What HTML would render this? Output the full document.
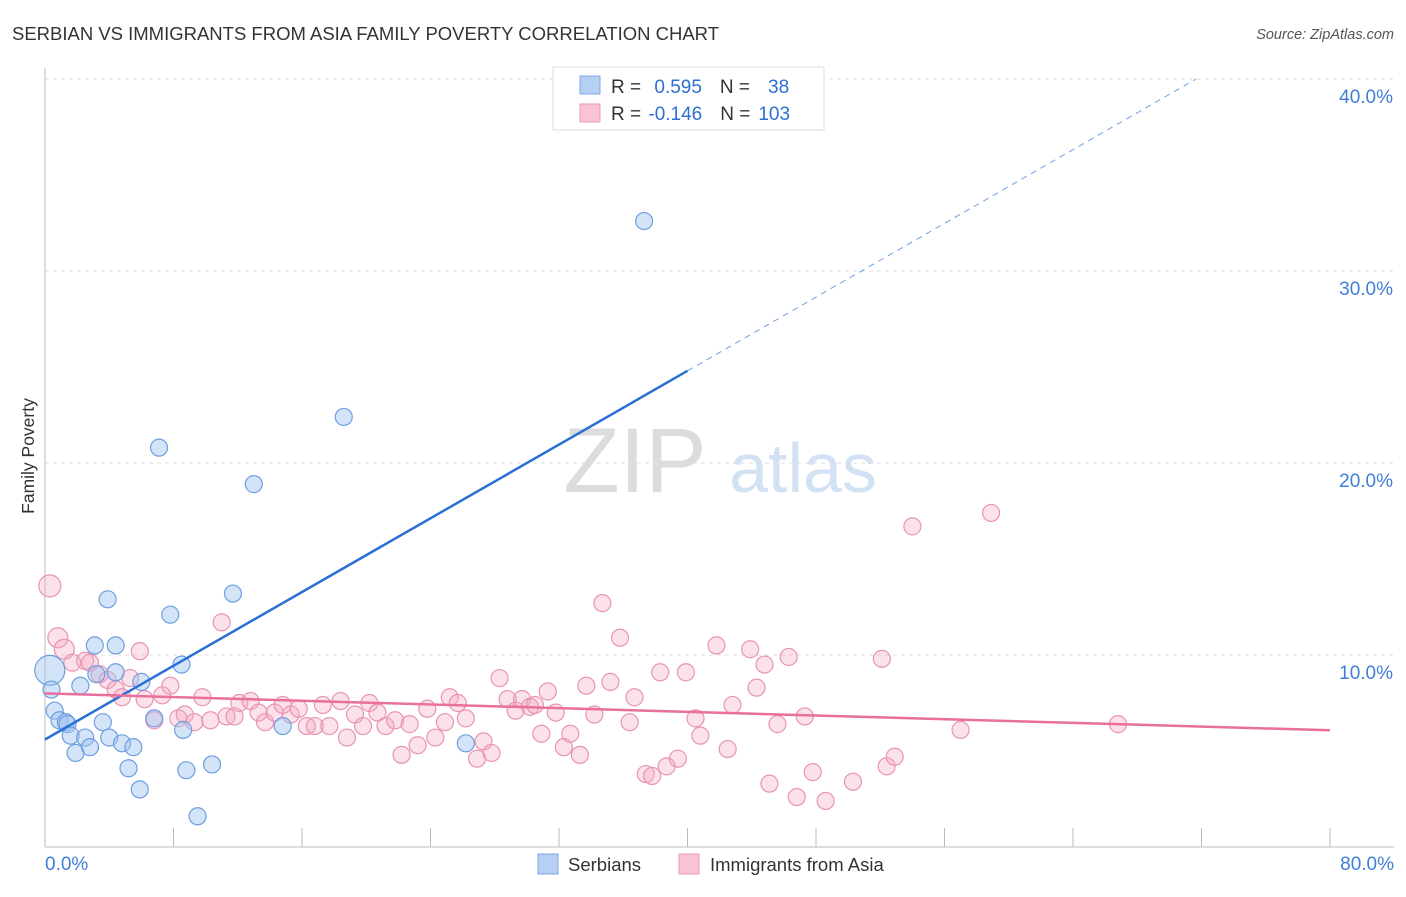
<!DOCTYPE html>
<html><head><meta charset="utf-8"><style>
body{margin:0;background:#fff;font-family:"Liberation Sans",sans-serif;}
svg text{font-family:"Liberation Sans",sans-serif;}
</style></head><body>
<svg id="c" width="1406" height="892" xmlns="http://www.w3.org/2000/svg">
<text x="12" y="40" font-size="18" fill="#333" textLength="707" lengthAdjust="spacingAndGlyphs">SERBIAN VS IMMIGRANTS FROM ASIA FAMILY POVERTY CORRELATION CHART</text>
<text x="1394" y="39" font-size="14.5" fill="#555" font-style="italic" text-anchor="end">Source: ZipAtlas.com</text>
<g opacity="0.5">
<text x="635" y="492" font-size="92" font-family="Liberation Serif" fill="#bbb" text-anchor="middle">ZIP</text>
<text x="803" y="492" font-size="70" fill="#a8c4ec" text-anchor="middle">atlas</text>
</g>
<g id="grid"></g><g id="axes"></g><g id="marks"></g><g id="lines"></g>
<text transform="translate(34,456) rotate(-90)" font-size="17.5" fill="#333" text-anchor="middle">Family Poverty</text>
<g>
<rect x="553" y="67" width="271" height="63" fill="#fff" stroke="#ddd"/>
<rect x="580" y="76" width="20" height="18" fill="#b6d0f3" stroke="#7ea8e2"/>
<rect x="580" y="104" width="20" height="18" fill="#f8c4d4" stroke="#ea9ab4"/>
<text x="611" y="93" font-size="19" fill="#333">R = <tspan fill="#2d6fd2" dx="8">0.595</tspan><tspan dx="18">N =</tspan><tspan fill="#2d6fd2" dx="18">38</tspan></text>
<text x="611" y="120" font-size="19" fill="#333">R = <tspan fill="#2d6fd2" dx="2">-0.146</tspan><tspan dx="18">N =</tspan><tspan fill="#2d6fd2" dx="8">103</tspan></text>
</g>
<g>
<rect x="538" y="854" width="20" height="20" fill="#b6d0f3" stroke="#7ea8e2"/>
<text x="568" y="871" font-size="18.5" fill="#333">Serbians</text>
<rect x="679" y="854" width="20" height="20" fill="#f8c4d4" stroke="#ea9ab4"/>
<text x="710" y="871" font-size="18.5" fill="#333">Immigrants from Asia</text>
</g>
</svg>
<script>
const yTicks=[10,20,30,40];
const xTickLabels=["0.0%","80.0%"];
const blueX=[0.3,0.4,0.6,0.9,1.3,1.4,1.6,1.9,2.2,2.5,2.8,3.1,3.2,3.6,3.9,4.0,4.4,4.4,4.8,5.2,5.5,5.9,6.0,6.8,7.1,7.8,8.5,8.6,8.8,9.5,10.4,11.7,13.0,14.8,18.6,26.2,37.3];
const blueY=[9.2,8.2,7.1,6.6,6.5,6.4,5.8,4.9,8.4,5.7,5.2,10.5,9.0,6.5,12.9,5.7,10.5,9.1,5.4,4.1,5.2,3.0,8.6,6.7,20.8,12.1,9.5,6.1,4.0,1.6,4.3,13.2,18.9,6.3,22.4,5.4,32.6];
const pinkX=[0.3,0.8,1.2,1.7,2.5,2.8,3.4,3.9,4.4,4.8,5.3,5.9,6.2,6.8,7.3,7.8,8.3,8.7,9.3,9.8,10.3,11.0,11.3,11.8,12.1,12.8,13.3,13.7,14.3,14.8,15.3,15.8,16.3,16.8,17.3,17.7,18.4,18.8,19.3,19.8,20.2,20.7,21.2,21.8,22.2,22.7,23.2,23.8,24.3,24.9,25.2,25.7,26.2,26.9,27.3,27.8,28.3,28.8,29.3,29.7,30.2,30.5,30.9,31.3,31.8,32.3,32.7,33.3,33.7,34.2,34.7,35.2,35.8,36.4,36.7,37.4,37.8,38.3,38.7,39.4,39.9,40.5,40.8,41.8,42.5,42.8,43.9,44.3,44.8,45.1,45.6,46.3,46.8,47.3,47.8,48.6,50.3,52.1,52.4,52.9,54.0,57.0,58.9,66.8];
const pinkY=[13.6,10.9,10.3,9.6,9.7,9.6,9.0,8.7,8.2,7.8,8.8,10.2,7.7,6.6,7.9,8.4,6.7,6.9,6.5,7.8,6.6,11.7,6.8,6.8,7.5,7.6,7.0,6.5,7.0,7.4,6.9,7.2,6.3,6.3,7.4,6.3,7.6,5.7,6.9,6.3,7.5,7.0,6.3,6.6,4.8,6.4,5.3,7.2,5.7,6.5,7.8,7.5,6.7,4.6,5.5,4.9,8.8,7.7,7.1,7.7,7.3,7.4,5.9,8.1,7.0,5.2,5.9,4.8,8.4,6.9,12.7,8.6,10.9,6.5,7.8,3.8,3.7,9.1,4.2,4.6,9.1,6.7,5.8,10.5,5.1,7.4,10.3,8.3,9.5,3.3,6.4,9.9,2.6,6.8,3.9,2.4,3.4,9.8,4.2,4.7,16.7,6.1,17.4,6.4];
const blueTrend=[5.6,0.48];   // intercept, slope
const pinkTrend=[8.0,-0.024];
const NS="http://www.w3.org/2000/svg";
const X=v=>45+v*16.0625, Y=v=>847-v*19.2;
function mk(t,a,p){const e=document.createElementNS(NS,t);for(const k in a)e.setAttribute(k,a[k]);document.getElementById(p).appendChild(e);return e;}
yTicks.forEach(t=>{
 const g=mk('line',{x1:45,x2:1394,y1:Y(t),y2:Y(t),stroke:'#ddd','stroke-dasharray':'4,4'},'grid');
 
 
 const l=mk('text',{x:1393,y:Y(t)+24,'font-size':19,fill:'#3f7fd8','text-anchor':'end'},'axes');l.textContent=t.toFixed(1)+'%';
 
 
});
const ax=mk('line',{x1:45,x2:1394,y1:847,y2:847,stroke:'#bbb'},'axes');


const ay=mk('line',{x1:45,x2:45,y1:68,y2:847,stroke:'#bbb'},'axes');


for(let i=0;i<=10;i++){const t=mk('line',{x1:X(i*8),x2:X(i*8),y1:828,y2:847,stroke:'#bbb'},'axes');
 
 }
[[0,'start',45],[1,'end',1394]].forEach(([i,a,x])=>{const l=mk('text',{x:x,y:870,'font-size':19,fill:'#3f7fd8','text-anchor':a},'axes');l.textContent=xTickLabels[i];
 
 });
pinkX.forEach((x,i)=>{const r=i==0?11:(i<3?10:8.5);
 const c=mk('circle',{cx:X(x),cy:Y(pinkY[i]),r:r,fill:'rgba(244,170,195,0.35)',stroke:'#e994b2','stroke-width':1.2},'marks');
 
 });
blueX.forEach((x,i)=>{const r=i==0?15:8.5;
 const c=mk('circle',{cx:X(x),cy:Y(blueY[i]),r:r,fill:'rgba(160,196,240,0.45)',stroke:'#6e9fe0','stroke-width':1.2},'marks');
 
 });
const bl=mk('line',{x1:X(0),y1:Y(blueTrend[0]),x2:X(40),y2:Y(blueTrend[0]+40*blueTrend[1]),stroke:'#2a6fd6','stroke-width':2.5},'lines');


const xe=(40-blueTrend[0])/blueTrend[1];
const bd=mk('line',{x1:X(40),y1:Y(blueTrend[0]+40*blueTrend[1]),x2:X(xe),y2:Y(40),stroke:'#6e9fe0','stroke-width':1,'stroke-dasharray':'6,5'},'lines');


const pl=mk('line',{x1:X(0),y1:Y(pinkTrend[0]),x2:X(80),y2:Y(pinkTrend[0]+80*pinkTrend[1]),stroke:'#e8709a','stroke-width':2.5},'lines');


</script>
</body></html>
